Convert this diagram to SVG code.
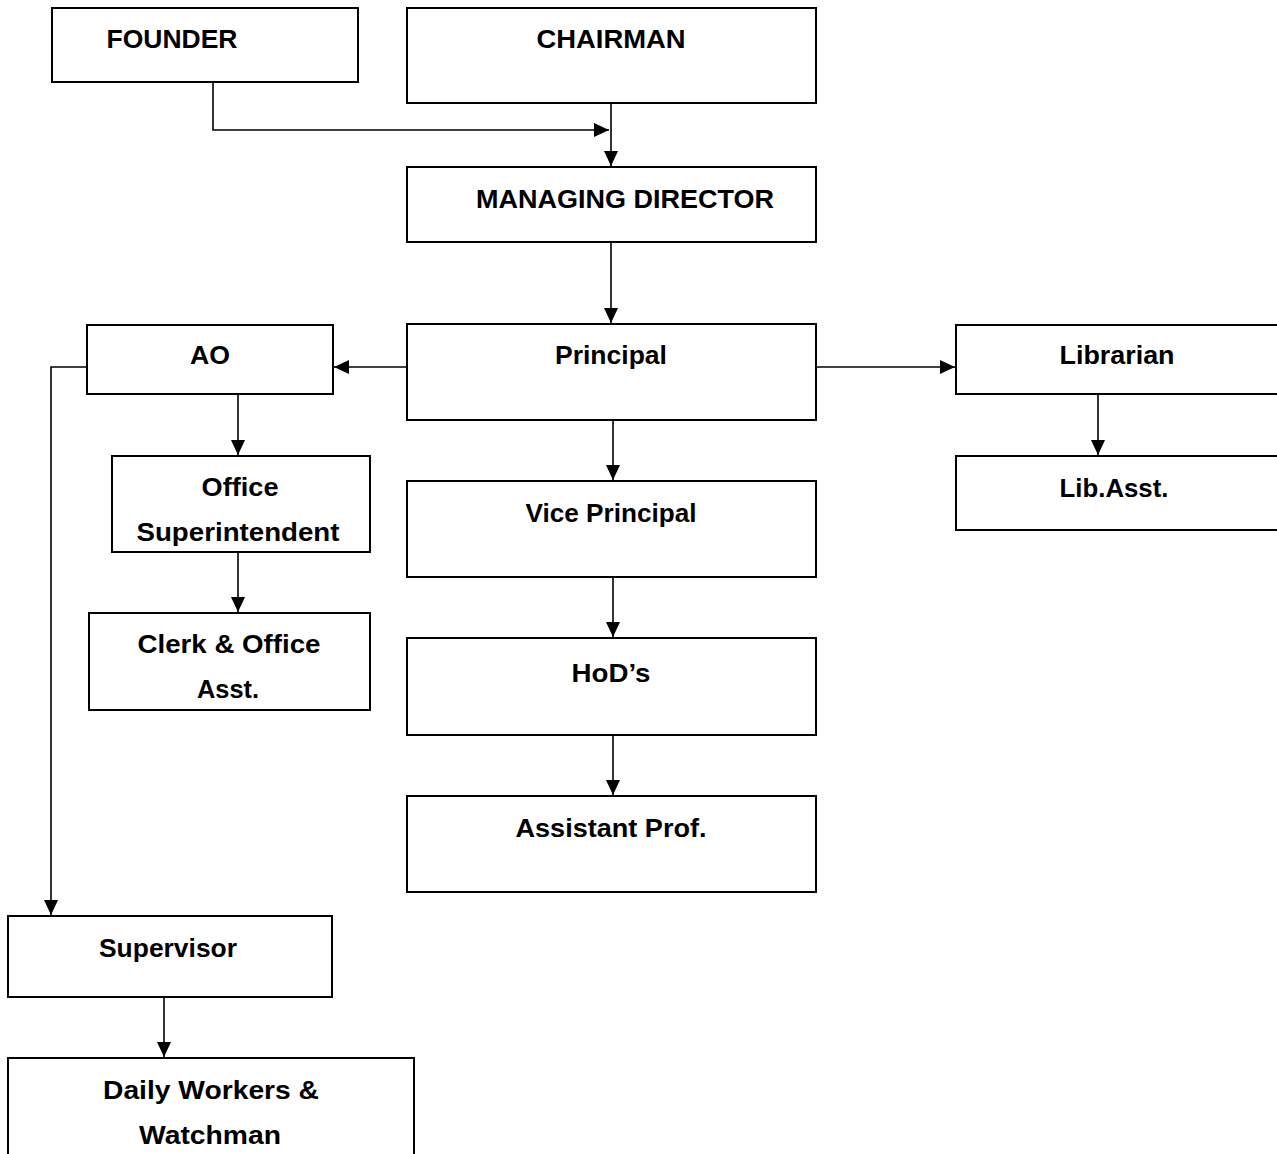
<svg xmlns="http://www.w3.org/2000/svg" width="1277" height="1154" viewBox="0 0 1277 1154">
<style>
.box{fill:#fff;stroke:#000;stroke-width:2}
.t{font-family:"Liberation Sans",Arial,sans-serif;font-weight:bold;font-size:26px;fill:#000}
.c{fill:none;stroke:#000;stroke-width:1.6}
</style>
<defs>
<marker id="ah" markerUnits="userSpaceOnUse" markerWidth="16" markerHeight="14" refX="15" refY="7" orient="auto">
<path d="M0,0 L15,7 L0,14 z" fill="#000"/>
</marker>
</defs>
<rect width="1277" height="1154" fill="#fff"/>
<g id="connectors">
<path class="c" d="M213,82 V130 H609" marker-end="url(#ah)"/>
<path class="c" d="M611,103 V166" marker-end="url(#ah)"/>
<path class="c" d="M611,242 V323" marker-end="url(#ah)"/>
<path class="c" d="M407,367 H334" marker-end="url(#ah)"/>
<path class="c" d="M816,367 H955" marker-end="url(#ah)"/>
<path class="c" d="M1098,394 V455" marker-end="url(#ah)"/>
<path class="c" d="M238,394 V455" marker-end="url(#ah)"/>
<path class="c" d="M238,552 V612" marker-end="url(#ah)"/>
<path class="c" d="M87,367 H51 V915" marker-end="url(#ah)"/>
<path class="c" d="M613,420 V480" marker-end="url(#ah)"/>
<path class="c" d="M613,577 V637" marker-end="url(#ah)"/>
<path class="c" d="M613,735 V795" marker-end="url(#ah)"/>
<path class="c" d="M164,997 V1057" marker-end="url(#ah)"/>
</g>
<g id="founder"><rect class="box" x="52" y="8" width="306" height="74"/><text class="t" x="172" y="48" text-anchor="middle" textLength="131" lengthAdjust="spacingAndGlyphs">FOUNDER</text></g>
<g id="chairman"><rect class="box" x="407" y="8" width="409" height="95"/><text class="t" x="611" y="48" text-anchor="middle" textLength="149" lengthAdjust="spacingAndGlyphs">CHAIRMAN</text></g>
<g id="md"><rect class="box" x="407" y="167" width="409" height="75"/><text class="t" x="625" y="208" text-anchor="middle" textLength="298" lengthAdjust="spacingAndGlyphs">MANAGING DIRECTOR</text></g>
<g id="principal"><rect class="box" x="407" y="324" width="409" height="96"/><text class="t" x="611" y="364" text-anchor="middle" textLength="112" lengthAdjust="spacingAndGlyphs">Principal</text></g>
<g id="ao"><rect class="box" x="87" y="325" width="246" height="69"/><text class="t" x="210" y="364" text-anchor="middle" textLength="40" lengthAdjust="spacingAndGlyphs">AO</text></g>
<g id="librarian"><rect class="box" x="956" y="325" width="330" height="69"/><text class="t" x="1117" y="364" text-anchor="middle" textLength="115" lengthAdjust="spacingAndGlyphs">Librarian</text></g>
<g id="libasst"><rect class="box" x="956" y="456" width="330" height="74"/><text class="t" x="1114" y="497" text-anchor="middle" textLength="109" lengthAdjust="spacingAndGlyphs">Lib.Asst.</text></g>
<g id="officesup"><rect class="box" x="112" y="456" width="258" height="96"/><text class="t" x="240" y="496" text-anchor="middle" textLength="77" lengthAdjust="spacingAndGlyphs">Office</text><text class="t" x="238" y="541" text-anchor="middle" textLength="203" lengthAdjust="spacingAndGlyphs">Superintendent</text></g>
<g id="clerk"><rect class="box" x="89" y="613" width="281" height="97"/><text class="t" x="229" y="653" text-anchor="middle" textLength="183" lengthAdjust="spacingAndGlyphs">Clerk &amp; Office</text><text class="t" x="228" y="698" text-anchor="middle" textLength="62" lengthAdjust="spacingAndGlyphs">Asst.</text></g>
<g id="vp"><rect class="box" x="407" y="481" width="409" height="96"/><text class="t" x="611" y="522" text-anchor="middle" textLength="171" lengthAdjust="spacingAndGlyphs">Vice Principal</text></g>
<g id="hods"><rect class="box" x="407" y="638" width="409" height="97"/><text class="t" x="611" y="682" text-anchor="middle" textLength="79" lengthAdjust="spacingAndGlyphs">HoD’s</text></g>
<g id="asstprof"><rect class="box" x="407" y="796" width="409" height="96"/><text class="t" x="611" y="837" text-anchor="middle" textLength="191" lengthAdjust="spacingAndGlyphs">Assistant Prof.</text></g>
<g id="supervisor"><rect class="box" x="8" y="916" width="324" height="81"/><text class="t" x="168" y="957" text-anchor="middle" textLength="138" lengthAdjust="spacingAndGlyphs">Supervisor</text></g>
<g id="daily"><rect class="box" x="8" y="1058" width="406" height="110"/><text class="t" x="211" y="1099" text-anchor="middle" textLength="216" lengthAdjust="spacingAndGlyphs">Daily Workers &amp;</text><text class="t" x="210" y="1144" text-anchor="middle" textLength="142" lengthAdjust="spacingAndGlyphs">Watchman</text></g>
</svg>
